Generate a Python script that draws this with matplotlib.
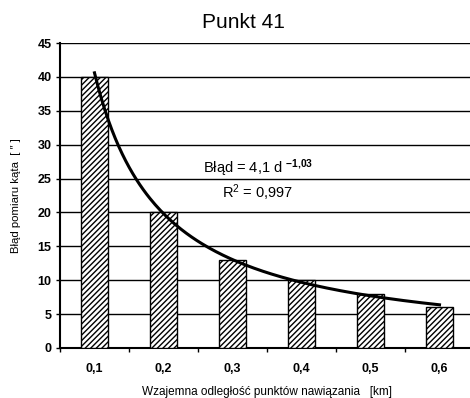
import numpy as np
import matplotlib
matplotlib.use("Agg")
import matplotlib.pyplot as plt

plt.rcParams['font.family'] = ['Liberation Sans', 'DejaVu Sans']
plt.rcParams['mathtext.fontset'] = 'custom'
plt.rcParams['mathtext.rm'] = 'Liberation Sans'
plt.rcParams['mathtext.it'] = 'Liberation Sans'
plt.rcParams['mathtext.bf'] = 'Liberation Sans:bold'
plt.rcParams['hatch.linewidth'] = 1.0

categories = ["0,1", "0,2", "0,3", "0,4", "0,5", "0,6"]
distances = [0.1, 0.2, 0.3, 0.4, 0.5, 0.6]
errors = [40, 20, 13, 10, 8, 6]
yticks = [0, 5, 10, 15, 20, 25, 30, 35, 40, 45]

fig = plt.figure(figsize=(4.7, 3.98), dpi=100)
ax = fig.add_axes([60/470, 1-348/398, 414/470, (348-43)/398])

x = np.arange(len(categories))
ax.bar(x, errors, width=0.4, color='white', edgecolor='black', hatch='//////', linewidth=1.0, zorder=3)

# power trendline fitted to the data
b, loga = np.polyfit(np.log(distances), np.log(errors), 1)
dd = np.linspace(distances[0], distances[-1], 200)
yy = np.exp(loga) * dd ** b
xx = (dd - distances[0]) / (distances[1] - distances[0])
ax.plot(xx, yy, color='black', lw=2.2, zorder=4)

ax.set_xlim(-0.5, len(categories) - 0.5)
ax.set_ylim(0, 45)
ax.set_yticks(yticks)
ax.set_yticklabels([str(v) for v in yticks], fontsize=9, fontweight='bold')
ax.set_xticks(x)
ax.set_xticklabels(categories, fontsize=9, fontweight='bold')
ax.tick_params(axis='x', length=0, pad=11)
ax.set_xticks(np.arange(-0.5, len(categories), 1), minor=True)
ax.tick_params(axis='x', which='minor', length=3, direction='out', width=1)
ax.tick_params(axis='y', length=3, direction='out', width=1, pad=3)

ax.grid(axis='y', color='black', lw=1.0, zorder=0)
ax.set_axisbelow(True)
for s in ['top', 'right']:
    ax.spines[s].set_visible(False)
ax.spines['left'].set_linewidth(1.5)
ax.spines['bottom'].set_linewidth(1.5)

ax.set_ylabel('Błąd pomiaru kąta  [ ″ ]', fontsize=8.2, labelpad=12)
ax.set_xlabel('Wzajemna odległość punktów nawiązania   [km]', fontsize=8.5, labelpad=8)
fig.text(243/470, 1-22/398, 'Punkt 41', fontsize=15, ha='center', va='center')

ax.text(2.37, 26.5, 'Błąd = 4,1 d $^{\\mathbf{-1{,}03}}$', fontsize=10.5, ha='center', va='center')
ax.text(2.37, 22.9, 'R$^2$ = 0,997', fontsize=10.5, ha='center', va='center')

fig.savefig('out.png', dpi=100)
